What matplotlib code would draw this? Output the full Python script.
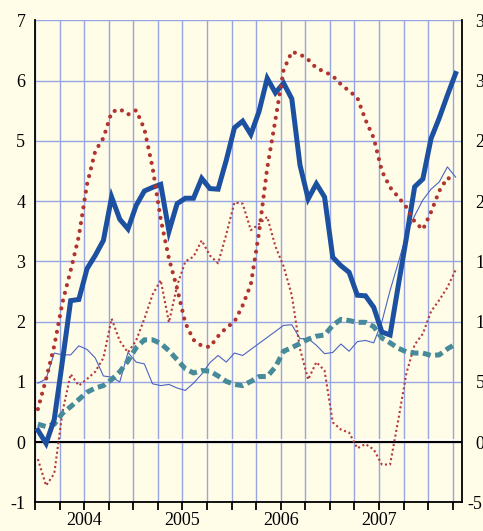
import numpy as np
import matplotlib.pyplot as plt
from matplotlib.transforms import ScaledTranslation

plt.rcParams['font.family'] = ['Liberation Serif', 'DejaVu Serif']
plt.rcParams['axes.unicode_minus'] = False

# monthly data, Jan 2004 - Apr 2008 (left axis units)
months = np.arange(52)
years = ['2004', '2005', '2006', '2007']

blue_thick = [0.2, -0.02, 0.38, 1.35, 2.35, 2.37, 2.88, 3.1, 3.35, 4.07,
              3.70, 3.54, 3.93, 4.17, 4.23, 4.28, 3.5, 3.96, 4.05, 4.05,
              4.38, 4.21, 4.2, 4.68, 5.22, 5.33, 5.11, 5.49, 6.04, 5.80,
              5.96, 5.70, 4.6, 4.04, 4.29, 4.07, 3.07, 2.93, 2.82, 2.44,
              2.43, 2.24, 1.83, 1.78, 2.6, 3.4, 4.24, 4.37, 5.04, 5.38,
              5.76, 6.12]

red_thick = [0.55, 1.05, 1.6, 2.32, 2.85, 3.42, 4.28, 4.83, 5.05, 5.48,
             5.53, 5.44, 5.51, 5.2, 4.56, 3.7, 3.05, 2.55, 1.98, 1.7,
             1.6, 1.58, 1.76, 1.9, 2.0, 2.27, 2.62, 3.48, 4.55, 5.35,
             6.18, 6.48, 6.44, 6.35, 6.21, 6.15, 6.08, 5.94, 5.83, 5.72,
             5.35, 5.05, 4.5, 4.23, 4.07, 3.9, 3.66, 3.53, 3.82, 4.17,
             4.39, 4.33]

red_thin = [-0.28, -0.72, -0.52, 0.5, 1.13, 0.94, 1.05, 1.17, 1.4, 2.05,
            1.68, 1.49, 1.69, 2.05, 2.45, 2.69, 1.99, 2.6, 3.0, 3.08,
            3.35, 3.1, 2.97, 3.45, 3.98, 3.96, 3.52, 3.62, 3.74, 3.25,
            2.92, 2.44, 1.55, 1.04, 1.33, 1.19, 0.33, 0.21, 0.16, -0.1,
            -0.03, -0.12, -0.37, -0.37, 0.37, 1.15, 1.62, 1.8, 2.17, 2.36,
            2.57, 2.86]

blue_thin = [0.98, 1.05, 1.48, 1.45, 1.45, 1.6, 1.54, 1.4, 1.1, 1.08,
             1.0, 1.49, 1.33, 1.3, 0.97, 0.94, 0.96, 0.9, 0.86, 0.98,
             1.13, 1.32, 1.44, 1.33, 1.48, 1.44, 1.54, 1.64, 1.74, 1.84,
             1.94, 1.95, 1.72, 1.72, 1.61, 1.47, 1.49, 1.63, 1.51, 1.67,
             1.69, 1.65, 2.0, 2.52, 2.98, 3.45, 3.76, 4.02, 4.2, 4.32,
             4.57, 4.4]

teal = [0.3, 0.26, 0.3, 0.48, 0.59, 0.71, 0.83, 0.9, 0.94, 1.04,
        1.17, 1.35, 1.57, 1.7, 1.7, 1.64, 1.52, 1.37, 1.22, 1.15,
        1.19, 1.18, 1.1, 1.01, 0.96, 0.94, 1.01, 1.09, 1.09, 1.25,
        1.51, 1.57, 1.64, 1.71, 1.76, 1.78, 1.94, 2.04, 2.02, 1.99,
        1.99, 1.92, 1.73, 1.65, 1.56, 1.5, 1.48, 1.48, 1.44, 1.45,
        1.55, 1.63]

bg = '#fffce8'
grid_c = '#97a6e3'

fig = plt.figure(figsize=(4.83, 5.31), dpi=100, facecolor=bg)
ax = fig.add_axes([0.0725, 0.0537, 0.883, 0.9077])
ax.set_facecolor(bg)

x = months + 0.35

ax.plot(x, blue_thin, color='#4a64c4', lw=0.8, zorder=3)
ax.plot(x, red_thin, color='#b4393a', lw=1.5, ls=(0, (1, 1.3)), zorder=3)
ax.plot(x, teal, color='#478a9a', lw=3.6, ls=(0, (1.6, 0.9)), zorder=4)
ax.plot(x, blue_thick, color='#1c50a0', lw=3.6, zorder=5,
        solid_joinstyle='miter')
ax.plot(x, red_thick, color='#b0342f', lw=3.0, ls=(0, (0.01, 1.9)),
        dash_capstyle='round', zorder=6)

ax.set_xlim(0, 52.07)
ax.set_ylim(-1, 7)

# grid
ax.set_xticks(np.arange(0, 52, 3))
ax.set_xticklabels([])
ax.set_yticks(np.arange(-1, 8))
ax.grid(True, color=grid_c, lw=1.0, zorder=0)
ax.set_axisbelow(True)

ax.axhline(0.04, color='white', lw=1.2, zorder=1)
ax.axhline(0, color='black', lw=1.5, zorder=2)

# year labels in the middle of each year
ax.xaxis.remove_overlapping_locs = False
ax.set_xticks(np.arange(6, 48, 12), minor=True)
ax.set_xticklabels(years, minor=True)
ax.tick_params(axis='x', which='minor', length=0, pad=7, labelsize=13)
ax.tick_params(axis='x', which='major', direction='out', length=6,
               width=1.3, color='black')
ax.tick_params(axis='y', length=0, pad=7, labelsize=13)

for s in ['left', 'right', 'bottom']:
    ax.spines[s].set_color('black')
    ax.spines[s].set_linewidth(1.3)
ax.spines['top'].set_visible(False)

ax2 = ax.twinx()
ax2.set_ylim(-5, 35)
ax2.set_yticks(np.arange(-5, 40, 5))
ax2.tick_params(axis='y', length=0, pad=10, labelsize=13)
for s in ax2.spines.values():
    s.set_visible(False)

# hang the minus sign of the lowest right label
neg = ax2.yaxis.get_major_ticks()[0].label2
neg.set_transform(neg.get_transform() +
                  ScaledTranslation(-6 / 72, 0, fig.dpi_scale_trans))

fig.savefig('out.png', dpi=100, facecolor=bg)
